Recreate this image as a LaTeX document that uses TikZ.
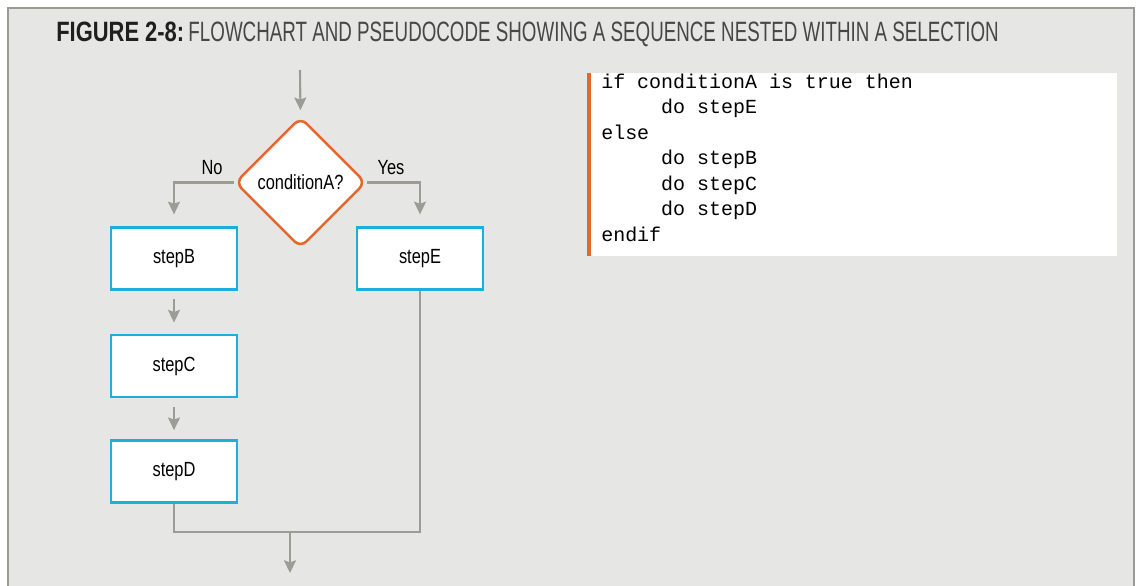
\documentclass[tikz,border=0pt]{standalone}
\usepackage{fontspec}
\setmainfont{Liberation Sans}[FakeStretch=0.8]
\newfontfamily\titlefont{Liberation Sans}[FakeStretch=0.671]
\newfontfamily\titleboldfont{Liberation Sans Bold}[FakeStretch=0.784]
\newfontfamily\codefont{Liberation Mono}
\usetikzlibrary{arrows.meta,shapes.geometric}

\definecolor{panelbg}{RGB}{230,230,228}
\definecolor{framegray}{RGB}{155,155,148}
\definecolor{flowgray}{RGB}{156,156,149}
\definecolor{condorange}{RGB}{226,105,43}
\definecolor{stepcyan}{RGB}{27,176,217}

\tikzset{
  stepbox/.style={draw=stepcyan, line width=1.7pt, fill=white, rectangle,
    minimum width=3.15cm, minimum height=1.55cm, inner sep=0pt,
    font=\fontsize{14.6}{17}\selectfont},
  decision/.style={draw=condorange, line width=1.8pt, fill=white, diamond,
    rounded corners=6pt, minimum width=3.27cm, minimum height=3.27cm, inner sep=0pt,
    font=\fontsize{14.6}{17}\selectfont},
  flow/.style={draw=flowgray, line width=1.5pt,
    -{Stealth[length=9pt,width=8.5pt,inset=1.5pt]}},
  joinline/.style={draw=flowgray, line width=1.5pt},
  branchlabel/.style={font=\fontsize{14.6}{17}\selectfont, inner sep=0pt},
  codeline/.style={font=\codefont\fontsize{14.2}{18}\selectfont, anchor=base west, inner sep=0pt}
}
\newcommand\codeindent{\phantom{00000}}

\begin{document}
\begin{tikzpicture}[x=0.025cm, y=-0.025cm]
  %%%%% START %%%%%

  % panel
  \useasboundingbox (0,0) rectangle (1136,585);
  \fill[white] (0,0) rectangle (1136,585);
  \fill[panelbg] (8,8) rectangle (1134,590);
  \draw[framegray, line width=1.8pt] (8,590) -- (8,8) -- (1134,8) -- (1134,590);

  % title
  \node[anchor=base west, inner sep=0pt, font=\fontsize{19.9}{22}\selectfont]
    (title) at (56,42) {{\titleboldfont\color{black!88}FIGURE 2-8:}\hspace{3pt}{\titlefont\color{black!72}FLOWCHART AND PSEUDOCODE SHOWING A SEQUENCE NESTED WITHIN A SELECTION}};

  % flowchart
  \coordinate (entry) at (300,70);
  \node[decision] (cond) at (300.5,182.5) {conditionA?};
  \node[stepbox] (stepB) at (174,258.5) {stepB};
  \node[stepbox] (stepE) at (420,258.5) {stepE};
  \node[stepbox] (stepC) at (174,366) {stepC};
  \node[stepbox] (stepD) at (174,471.5) {stepD};
  \coordinate (merge) at (290,532);
  \coordinate (exit) at (290,573);

  \node[branchlabel] (nolabel) at (212,168) {No};
  \node[branchlabel] (yeslabel) at (391,168) {Yes};

  \draw[flow, shorten >=4pt] (entry) -- (cond.north);
  \draw[flow, shorten >=8.5pt] (cond.west) -| (stepB.north);
  \draw[flow, shorten >=8.5pt] (cond.east) -| (stepE.north);
  \draw[flow, shorten <=6pt, shorten >=8pt] (stepB.south) -- (stepC.north);
  \draw[flow, shorten <=6.5pt, shorten >=6.5pt] (stepC.south) -- (stepD.north);
  \draw[joinline] (stepD.south) |- (merge);
  \draw[joinline] (stepE.south) |- (merge);
  \draw[flow] (merge) -- (exit);

  % pseudocode
  \fill[white] (587,73) rectangle (1117,256);
  \fill[condorange] (587,73) rectangle (591,256);
  \node[codeline] (code1) at (601,88) {if conditionA is true then};
  \node[codeline] (code2) at (601,113.5) {\codeindent do stepE};
  \node[codeline] (code3) at (601,139) {else};
  \node[codeline] (code4) at (601,164.5) {\codeindent do stepB};
  \node[codeline] (code5) at (601,190) {\codeindent do stepC};
  \node[codeline] (code6) at (601,215.5) {\codeindent do stepD};
  \node[codeline] (code7) at (601,241) {endif};

  %%%%% END %%%%%
\end{tikzpicture}
\end{document}
